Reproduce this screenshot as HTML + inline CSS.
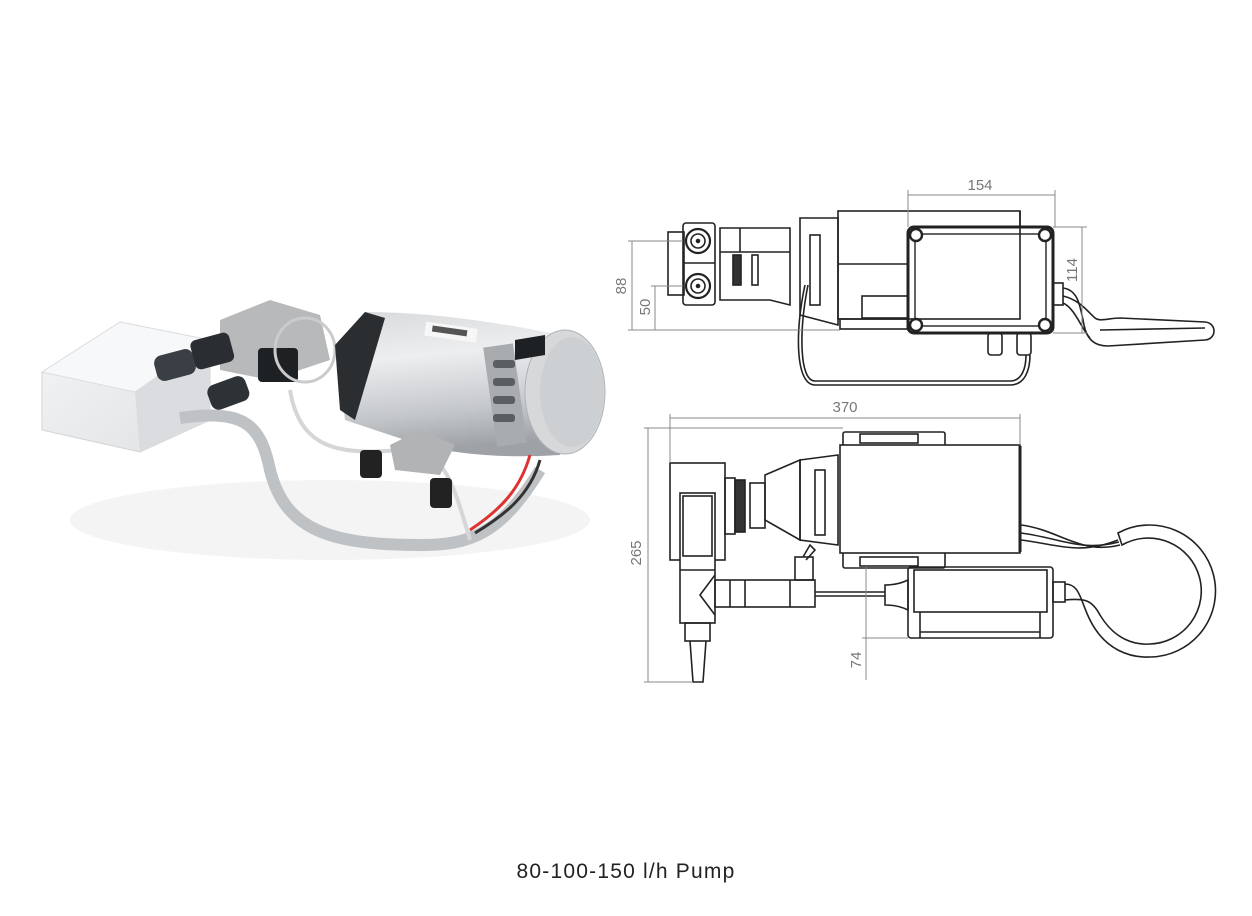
<!DOCTYPE html>
<html><head><meta charset="utf-8"><style>
html,body{margin:0;padding:0;background:#fff;}
body{width:1252px;height:916px;overflow:hidden;position:relative;}
.cap{position:absolute;left:0;width:1252px;top:860px;text-align:center;font-family:"Liberation Sans",sans-serif;font-size:21px;color:#222;letter-spacing:1.2px;}
</style></head><body>
<svg width="1252" height="916" viewBox="0 0 1252 916" xmlns="http://www.w3.org/2000/svg" style="position:absolute;left:0;top:0">
<defs>
<linearGradient id="cyl" x1="0" y1="0" x2="0.15" y2="1">
<stop offset="0" stop-color="#d8dadc"/><stop offset="0.35" stop-color="#eceef0"/><stop offset="0.75" stop-color="#c4c7ca"/><stop offset="1" stop-color="#9ea2a6"/></linearGradient>
<linearGradient id="box" x1="0" y1="0" x2="1" y2="1">
<stop offset="0" stop-color="#f4f5f6"/><stop offset="1" stop-color="#dfe1e3"/></linearGradient>
</defs>
<g>
<ellipse cx="330" cy="520" rx="260" ry="40" fill="#f4f4f4"/>
<polygon points="42,372 120,322 210,340 210,420 140,452 42,430" fill="url(#box)" stroke="#d2d4d6"/>
<polygon points="42,372 120,322 210,340 135,392" fill="#f7f8f9" stroke="#dcdde0"/>
<polygon points="135,392 210,340 210,420 140,452" fill="#dadcdf"/>
<path d="M180,418 C240,410 260,420 270,470 C285,530 330,545 420,545 C470,545 500,535 540,470" fill="none" stroke="#bfc2c5" stroke-width="12"/>
<path d="M290,390 C300,450 340,455 400,450 C440,448 450,470 470,540" fill="none" stroke="#d4d6d8" stroke-width="4"/>
<polygon points="220,320 270,300 320,315 330,360 270,380 220,370" fill="#b8b9bb"/>
<rect x="155" y="352" width="40" height="26" rx="8" fill="#3a3f45" transform="rotate(-15 175 365)"/>
<rect x="192" y="336" width="40" height="30" rx="6" fill="#2a2d31" transform="rotate(-15 212 350)"/>
<rect x="208" y="380" width="40" height="26" rx="8" fill="#2d3237" transform="rotate(-20 228 392)"/>
<rect x="258" y="348" width="40" height="34" rx="4" fill="#1e2124"/>
<ellipse cx="305" cy="350" rx="30" ry="32" fill="none" stroke="#c9cbcd" stroke-width="3"/>
<path d="M335,345 L365,312 Q450,312 560,335 L560,455 Q480,460 420,445 L345,420 Z" fill="url(#cyl)"/>
<path d="M335,345 L365,312 L385,318 L355,420 L340,410 Z" fill="#2b2e31"/>
<rect x="425" y="325" width="52" height="14" fill="#f7f7f7" transform="rotate(8 450 332)"/>
<rect x="432" y="328" width="35" height="6" fill="#555" transform="rotate(8 450 332)"/>
<ellipse cx="565" cy="392" rx="40" ry="62" fill="#d6d8da" stroke="#b0b3b6"/>
<ellipse cx="572" cy="392" rx="32" ry="55" fill="#cdd0d3"/>
<rect x="490" y="345" width="30" height="100" fill="#a9acaf" transform="rotate(-8 505 395)"/>
<g fill="#5a5e62"><rect x="493" y="360" width="22" height="8" rx="3"/><rect x="493" y="378" width="22" height="8" rx="3"/><rect x="493" y="396" width="22" height="8" rx="3"/><rect x="493" y="414" width="22" height="8" rx="3"/></g>
<path d="M515,340 L545,335 L545,355 L515,360 Z" fill="#1e2124"/>
<polygon points="390,445 420,430 455,445 440,475 395,470" fill="#b1b3b5"/>
<rect x="360" y="450" width="22" height="28" rx="4" fill="#222"/>
<rect x="430" y="478" width="22" height="30" rx="4" fill="#222"/>
<path d="M530,455 C520,490 500,510 470,530" stroke="#d33" stroke-width="3" fill="none"/>
<path d="M540,460 C530,495 505,515 475,533" stroke="#333" stroke-width="3" fill="none"/>
</g>

<g fill="none" stroke="#222" stroke-width="1.6">
<rect x="838" y="211" width="182" height="108"/>
<line x1="1020" y1="211" x2="1020" y2="227"/>
<line x1="838" y1="264" x2="908" y2="264"/>
<path d="M800,218 L838,218 L838,325 L800,315 Z"/>
<rect x="810" y="235" width="10" height="70"/>
<path d="M720,228 L790,228 L790,305 L770,300 L720,300 Z"/>
<line x1="740" y1="228" x2="740" y2="252"/><line x1="720" y1="252" x2="790" y2="252"/>
<rect x="733" y="255" width="8" height="30" fill="#333"/><rect x="752" y="255" width="6" height="30"/>
<rect x="668" y="232" width="16" height="63"/>
<rect x="683" y="223" width="32" height="82" rx="3"/>
<line x1="683" y1="263" x2="715" y2="263"/>
<circle cx="698" cy="241" r="12" stroke-width="2.2"/><circle cx="698" cy="241" r="7"/><circle cx="698" cy="241" r="1.5" fill="#222"/>
<circle cx="698" cy="286" r="12" stroke-width="2.2"/><circle cx="698" cy="286" r="7"/><circle cx="698" cy="286" r="1.5" fill="#222"/>
<rect x="840" y="319" width="68" height="10"/>
<rect x="862" y="296" width="46" height="22"/>
<rect x="908" y="227" width="145" height="106" rx="6" stroke-width="3"/>
<rect x="915" y="234" width="131" height="92" stroke-width="1.4"/>
<circle cx="916" cy="235" r="6" stroke-width="2.4" fill="#fff"/><circle cx="1045" cy="235" r="6" stroke-width="2.4" fill="#fff"/>
<circle cx="916" cy="325" r="6" stroke-width="2.4" fill="#fff"/><circle cx="1045" cy="325" r="6" stroke-width="2.4" fill="#fff"/>
<rect x="988" y="333" width="14" height="22" rx="3"/><rect x="1017" y="333" width="14" height="22" rx="3"/>
<path d="M805,285 C795,330 795,385 815,385 L1010,385 C1025,385 1030,370 1030,355"/>
<path d="M808,285 C799,330 799,381 815,381 L1010,381 C1022,381 1026,368 1026,355"/>
<rect x="1053" y="283" width="10" height="22"/>
<path d="M1063,288 C1078,290 1080,305 1084,325 C1087,340 1095,346 1108,346 L1205,340 C1217,339 1217,323 1205,322 L1120,318 C1110,318 1100,322 1095,318 C1088,312 1080,300 1063,296"/>
<path d="M1063,303 C1075,308 1082,330 1090,338"/>
<path d="M1100,330 L1205,328"/>
<rect x="843" y="432" width="102" height="136" rx="2"/>
<rect x="840" y="445" width="180" height="108" fill="#fff"/>
<line x1="1020" y1="446" x2="1020" y2="552" stroke-width="3"/>
<rect x="860" y="434" width="58" height="9"/><rect x="860" y="557" width="58" height="9"/>
<path d="M800,460 L838,455 L838,545 L800,540 Z"/>
<rect x="815" y="470" width="10" height="65"/>
<path d="M765,475 L800,460 L800,540 L765,520 Z"/>
<rect x="750" y="483" width="15" height="45"/>
<rect x="735" y="480" width="10" height="52" fill="#333"/>
<rect x="725" y="478" width="10" height="56"/>
<rect x="670" y="463" width="55" height="97"/>
<rect x="680" y="493" width="35" height="130" fill="#fff"/>
<rect x="683" y="496" width="29" height="60"/>
<line x1="680" y1="570" x2="715" y2="570"/>
<path d="M715,575 L700,595 L715,615"/>
<rect x="715" y="580" width="100" height="27"/><line x1="730" y1="580" x2="730" y2="607"/><line x1="745" y1="580" x2="745" y2="607"/><line x1="790" y1="580" x2="790" y2="607"/>
<rect x="795" y="557" width="18" height="23"/>
<path d="M803,557 L810,545 L815,550 L806,560"/>
<rect x="685" y="623" width="25" height="18"/>
<path d="M690,641 L693,682 L703,682 L706,641"/>
<line x1="815" y1="592" x2="885" y2="592"/><line x1="815" y1="596" x2="885" y2="596"/>
<path d="M885,585 Q898,585 908,580 L908,610 Q898,605 885,605 Z"/>
<rect x="908" y="567" width="145" height="71" rx="3"/>
<rect x="914" y="570" width="133" height="42"/>
<line x1="920" y1="612" x2="920" y2="638"/><line x1="1040" y1="612" x2="1040" y2="638"/><line x1="920" y1="632" x2="1040" y2="632"/>
<rect x="1053" y="582" width="12" height="20"/>
<path d="M1065,584 C1080,584 1080,600 1090,620 C1105,650 1130,658 1150,657 A66,66 0 1,0 1118,533 L1122,545 A53,53 0 1,1 1150,644 C1135,645 1115,640 1100,615 C1092,600 1085,598 1065,600"/>
<path d="M1021,525 C1060,530 1080,555 1120,545"/><path d="M1021,540 C1060,545 1080,555 1118,540"/><path d="M1021,533 C1060,538 1080,552 1119,542"/>
</g>

<g stroke="#888" stroke-width="1" fill="none">
<line x1="908" y1="195" x2="1055" y2="195"/><line x1="908" y1="190" x2="908" y2="227"/><line x1="1055" y1="190" x2="1055" y2="227"/>
<line x1="1082" y1="227" x2="1082" y2="333"/><line x1="1053" y1="227" x2="1087" y2="227"/><line x1="1053" y1="333" x2="1087" y2="333"/>
<line x1="632" y1="241" x2="632" y2="330"/><line x1="628" y1="241" x2="683" y2="241"/>
<line x1="655" y1="286" x2="655" y2="330"/><line x1="651" y1="286" x2="683" y2="286"/>
<line x1="628" y1="330" x2="840" y2="330"/>
<line x1="670" y1="418" x2="1020" y2="418"/><line x1="670" y1="414" x2="670" y2="463"/><line x1="1020" y1="414" x2="1020" y2="445"/>
<line x1="648" y1="428" x2="648" y2="682"/><line x1="644" y1="428" x2="843" y2="428"/><line x1="644" y1="682" x2="693" y2="682"/>
<line x1="866" y1="567" x2="866" y2="680"/><line x1="862" y1="567" x2="908" y2="567"/><line x1="862" y1="638" x2="908" y2="638"/>
</g>
<g font-family="Liberation Sans, sans-serif" font-size="15" fill="#777">
<text x="980" y="190" text-anchor="middle">154</text>
<text x="845" y="412" text-anchor="middle">370</text>
<text transform="translate(1077,270) rotate(-90)" text-anchor="middle">114</text>
<text transform="translate(626,286) rotate(-90)" text-anchor="middle">88</text>
<text transform="translate(650,307) rotate(-90)" text-anchor="middle">50</text>
<text transform="translate(641,553) rotate(-90)" text-anchor="middle">265</text>
<text transform="translate(861,660) rotate(-90)" text-anchor="middle">74</text>
</g>
</svg>
<div class="cap">80-100-150 l/h Pump</div>
</body></html>
